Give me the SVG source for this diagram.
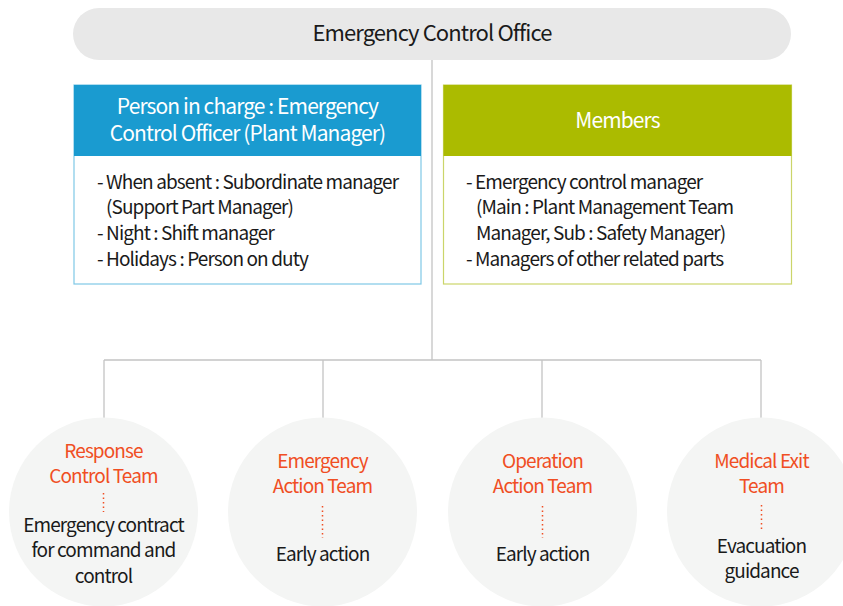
<svg xmlns="http://www.w3.org/2000/svg" width="843" height="606" viewBox="0 0 843 606">
<style>
text{font-family:"Noto Sans CJK KR","Noto Sans",sans-serif;letter-spacing:-0.9px}
.ttl{font-size:22px;fill:#1a1a1a;text-anchor:middle}
.hd{font-size:21px;fill:#fff;text-anchor:middle}
.bd{font-size:19px;fill:#1a1a1a}
.tm{font-size:19px;fill:#f04e23;text-anchor:middle}
.ds{font-size:19px;fill:#1a1a1a;text-anchor:middle}
.ln{stroke:#c4c4c4;stroke-width:1.3;fill:none}
.dot{stroke:#f04e23;stroke-width:1.5;stroke-dasharray:1.5 3;fill:none}
.cir{fill:#f4f5f4}
</style>
<rect width="843" height="606" fill="#fff"/>
<g id="connectors">
<path class="ln" d="M432 60V360M104 360H761M104 360V418M323 360V418M542 360V418M761 360V418"/>
</g>
<g id="office">
<rect x="73" y="8" width="718" height="52" rx="26" fill="#e8e8e8"/>
<text class="ttl" x="432" y="41">Emergency Control Office</text>
</g>
<g id="person-in-charge">
<rect x="74" y="85" width="347" height="199" fill="#fff" stroke="#7fc8e6" stroke-width="1.2"/>
<rect x="74" y="85" width="347" height="71" fill="#1a9bd0"/>
<text class="hd" x="247.5" y="114">Person in charge : Emergency</text>
<text class="hd" x="247.5" y="141">Control Officer (Plant Manager)</text>
<text class="bd" x="97" y="189">- When absent : Subordinate manager</text>
<text class="bd" x="106" y="214">(Support Part Manager)</text>
<text class="bd" x="97" y="240">- Night : Shift manager</text>
<text class="bd" x="97" y="266">- Holidays : Person on duty</text>
</g>
<g id="members">
<rect x="443.5" y="85" width="348" height="199" fill="#fff" stroke="#cbd56a" stroke-width="1.2"/>
<rect x="443.5" y="85" width="348" height="71" fill="#abbb00"/>
<text class="hd" x="617.5" y="128">Members</text>
<text class="bd" x="466" y="189">- Emergency control manager</text>
<text class="bd" x="476" y="214">(Main : Plant Management Team</text>
<text class="bd" x="476" y="240">Manager, Sub : Safety Manager)</text>
<text class="bd" x="466" y="266">- Managers of other related parts</text>
</g>
<g id="response-control-team">
<circle class="cir" cx="103.5" cy="512" r="94.5"/>
<text class="tm" x="103.5" y="458">Response</text>
<text class="tm" x="103.5" y="483">Control Team</text>
<path class="dot" d="M103.5 493V512"/>
<text class="ds" x="103.5" y="532">Emergency contract</text>
<text class="ds" x="103.5" y="557">for command and</text>
<text class="ds" x="103.5" y="583">control</text>
</g>
<g id="emergency-action-team">
<circle class="cir" cx="322.5" cy="512" r="94.5"/>
<text class="tm" x="322.5" y="468">Emergency</text>
<text class="tm" x="322.5" y="493">Action Team</text>
<path class="dot" d="M322.5 506V538"/>
<text class="ds" x="322.5" y="561">Early action</text>
</g>
<g id="operation-action-team">
<circle class="cir" cx="542.5" cy="512" r="94.5"/>
<text class="tm" x="542.5" y="468">Operation</text>
<text class="tm" x="542.5" y="493">Action Team</text>
<path class="dot" d="M542.5 506V538"/>
<text class="ds" x="542.5" y="561">Early action</text>
</g>
<g id="medical-exit-team">
<circle class="cir" cx="761.5" cy="512" r="94.5"/>
<text class="tm" x="761.5" y="468">Medical Exit</text>
<text class="tm" x="761.5" y="493">Team</text>
<path class="dot" d="M761.5 505V530"/>
<text class="ds" x="761.5" y="553">Evacuation</text>
<text class="ds" x="761.5" y="578">guidance</text>
</g>
</svg>
